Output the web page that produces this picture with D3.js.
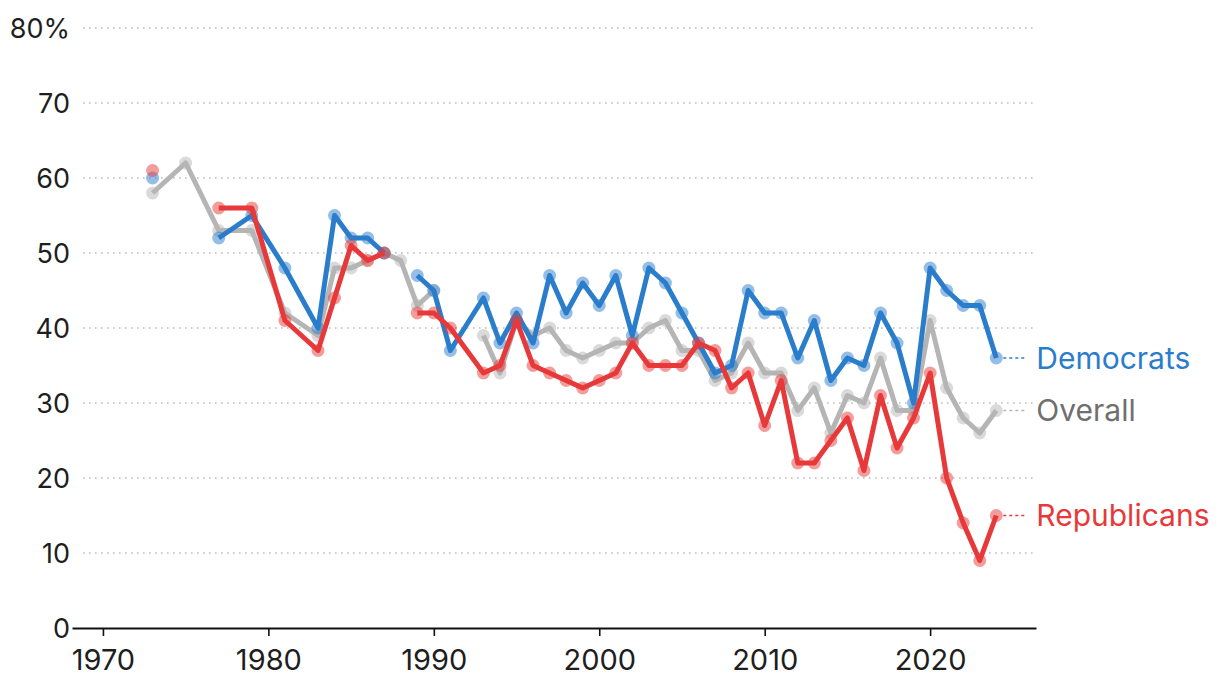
<html>
<head>
<style>
  body { margin: 0; background: #fff; }
  text { font-family: Inter, "Noto Sans", sans-serif; }
</style>
</head>
<body>
<svg id="svg" width="1220" height="698"></svg>
<script src="https://cdn.jsdelivr.net/npm/d3@7"></script>
<script type="text/javascript">
// survey years (years not listed are bridged by the lines)
const years = [1973, 1975, 1977, 1979, 1981, 1983, 1984, 1985, 1986, 1987, 1988, 1989, 1990, 1991,
  1993, 1994, 1995, 1996, 1997, 1998, 1999, 2000, 2001, 2002, 2003, 2004, 2005, 2006, 2007, 2008,
  2009, 2010, 2011, 2012, 2013, 2014, 2015, 2016, 2017, 2018, 2019, 2020, 2021, 2022, 2023, 2024];

const overall = [58, 62, 53, 53, 42, 39, 48, 48, 49, 50, 49, 43, 45, null,
  39, 34, 41, 39, 40, 37, 36, 37, 38, 38, 40, 41, 37, 37, 33, 34,
  38, 34, 34, 29, 32, 26, 31, 30, 36, 29, 29, 41, 32, 28, 26, 29];

const democrats = [60, null, 52, 55, 48, 40, 55, 52, 52, 50, null, 47, 45, 37,
  44, 38, 42, 38, 47, 42, 46, 43, 47, 39, 48, 46, 42, 38, 34, 35,
  45, 42, 42, 36, 41, 33, 36, 35, 42, 38, 30, 48, 45, 43, 43, 36];

const republicans = [61, null, 56, 56, 41, 37, 44, 51, 49, 50, null, 42, 42, 40,
  34, 35, 41, 35, 34, 33, 32, 33, 34, 38, 35, 35, 35, 38, 37, 32,
  34, 27, 33, 22, 22, 25, 28, 21, 31, 24, 28, 34, 20, 14, 9, 15];

const yTicks = [0, 10, 20, 30, 40, 50, 60, 70, 80];
const xTicks = [1970, 1980, 1990, 2000, 2010, 2020];

const series = [
  { name: "Overall", values: overall, color: "#b5b5b5", label: "#6f6f6f" },
  { name: "Democrats", values: democrats, color: "#2a7dcb", label: "#2a7dcb" },
  { name: "Republicans", values: republicans, color: "#e8393a", label: "#e8393a" }
];

const svg = d3.select("#svg");
const x = d3.scaleLinear().domain([1968.13, 2026.4]).range([72, 1036]);
const y = d3.scaleLinear().domain([0, 80]).range([628, 28]);

// grid
svg.append("g").selectAll("line").data(yTicks.filter(d => d > 0)).enter().append("line")
  .attr("x1", 83).attr("x2", 1035)
  .attr("y1", d => y(d)).attr("y2", d => y(d))
  .style("stroke", "#bdbdbd").style("stroke-width", 1.6)
  .style("stroke-dasharray", "1.6,4.4");

svg.append("g").selectAll("text").data(yTicks).enter().append("text")
  .attr("x", 70).attr("y", d => y(d)).attr("dy", "0.36em")
  .attr("text-anchor", "end")
  .style("font-size", "27px").style("fill", "#1e1e1e")
  .text(d => d === 80 ? "80%" : d);

// x axis
const xAxis = svg.append("g").attr("transform", "translate(0," + y(0) + ")")
  .call(d3.axisBottom(x).tickValues(xTicks).tickFormat(d3.format("d")).tickSize(8).tickSizeOuter(0));
xAxis.select(".domain").style("stroke", "#111").style("stroke-width", 2);
xAxis.selectAll(".tick line").style("stroke", "#111").style("stroke-width", 1.6);
xAxis.selectAll(".tick text").style("font-size", "29px").style("fill", "#1e1e1e")
  .style("font-family", "Inter, 'Noto Sans', sans-serif").attr("y", 17).attr("dy", "0.85em");

const line = d3.line()
  .defined(d => d.v != null)
  .x(d => x(d.year)).y(d => y(d.v));

series.forEach(s => {
  const pts = years.map((yr, i) => ({ year: yr, v: s.values[i] }));
  const g = svg.append("g");
  g.selectAll("circle").data(pts.filter(d => d.v != null)).enter().append("circle")
    .attr("cx", d => x(d.year)).attr("cy", d => y(d.v)).attr("r", 6.5)
    .style("fill", s.color).style("opacity", 0.5);
  g.append("path").datum(pts).attr("d", line)
    .style("fill", "none").style("stroke", s.color)
    .style("stroke-width", 5).style("stroke-linejoin", "round");

  const last = pts[pts.length - 1];
  g.append("line")
    .attr("x1", x(last.year) + 7).attr("x2", x(last.year) + 30)
    .attr("y1", y(last.v)).attr("y2", y(last.v))
    .style("stroke", s.color).style("stroke-width", 1.6)
    .style("stroke-dasharray", "3,3");
  g.append("text")
    .attr("x", x(last.year) + 40).attr("y", y(last.v)).attr("dy", "0.36em")
    .style("font-size", "30px").style("fill", s.label)
    .text(s.name);
});
</script>
</body>
</html>
